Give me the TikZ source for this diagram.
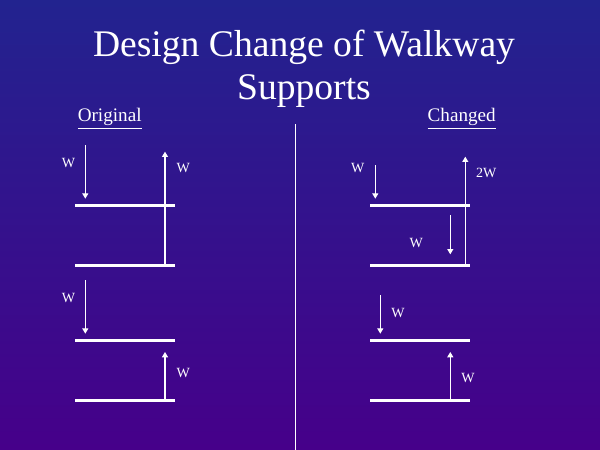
\documentclass[tikz,border=0pt]{standalone}
\usepackage{fontspec}
\setmainfont{Liberation Serif}
\usetikzlibrary{arrows.meta}
\definecolor{slidetop}{RGB}{34,35,143}
\definecolor{slidebottom}{RGB}{70,0,138}
\tikzset{
  walkway/.style={draw=none, fill=white, rectangle, minimum width=2cm, minimum height=0.06cm, inner sep=0pt},
  load/.style={white, line width=0.6pt, -{Triangle[width=3.4pt,length=3pt]}},
  force/.style={text=white, font=\fontsize{8}{9}\selectfont, inner sep=0pt},
  heading/.style={text=white, font=\fontsize{10.9}{12}\selectfont, inner sep=0pt, anchor=base},
}
\begin{document}
\begin{tikzpicture}[x=0.02cm, y=-0.02cm]
\shade[top color=slidetop, bottom color=slidebottom] (0,0) rectangle (600,450);
\useasboundingbox (0,0) rectangle (600,450);

% Title
\node[text=white, font=\fontsize{21.4}{24.4}\selectfont, align=center, anchor=base, inner sep=0pt] (title) at (304,99.7) {Design Change of Walkway\\Supports};

% Divider
\coordinate (divtop) at (295.3,124.3);
\coordinate (divbot) at (295.3,450);
\draw[white, line width=0.6pt] (divtop) -- (divbot);

% Original
\node[heading] (orighead) at (109.7,121.7) {\underline{Original}};
\node[walkway] (orig1) at (125,205.3) {};
\node[walkway] (orig2) at (125,265) {};
\node[walkway] (orig3) at (125,340.3) {};
\node[walkway] (orig4) at (125,400.3) {};

\coordinate (oa) at (85.3,145);
\coordinate (ob) at (165,151.7);
\coordinate (oc) at (85.3,280);
\coordinate (od) at (165,352);
\draw[load, shorten >=2.7pt] (oa) -- (oa |- orig1.north);
\draw[load] (orig2.center -| ob) -- (ob);
\draw[load, shorten >=2.7pt] (oc) -- (oc |- orig3.north);
\draw[load] (orig4.center -| od) -- (od);

\node[force] (wo1) at (68.5,162.7) {W};
\node[force] (wo2) at (183.3,168) {W};
\node[force] (wo3) at (68.5,297.7) {W};
\node[force] (wo4) at (183.3,372.7) {W};

% Changed
\node[heading] (chghead) at (461.7,121.7) {\underline{Changed}};
\node[walkway] (chg1) at (420,205.3) {};
\node[walkway] (chg2) at (420,265) {};
\node[walkway] (chg3) at (420,340.3) {};
\node[walkway] (chg4) at (420,400.3) {};

\coordinate (ca) at (375.3,165);
\coordinate (cb) at (465.3,156.7);
\coordinate (cc) at (450.3,215);
\coordinate (cd) at (450.3,254.3);
\coordinate (ce) at (380.3,295);
\coordinate (cf) at (450.3,352);
\draw[load, shorten >=2.7pt] (ca) -- (ca |- chg1.north);
\draw[load] (chg2.center -| cb) -- (cb);
\draw[load] (cc) -- (cd);
\draw[load, shorten >=2.7pt] (ce) -- (ce |- chg3.north);
\draw[load] (chg4.center -| cf) -- (cf);

\node[force] (wc1) at (357.8,168.3) {W};
\node[force] (wc2) at (486.3,173) {2W};
\node[force] (wc3) at (416.3,243.3) {W};
\node[force] (wc4) at (398,312.7) {W};
\node[force] (wc5) at (468,377.7) {W};
\end{tikzpicture}
\end{document}
